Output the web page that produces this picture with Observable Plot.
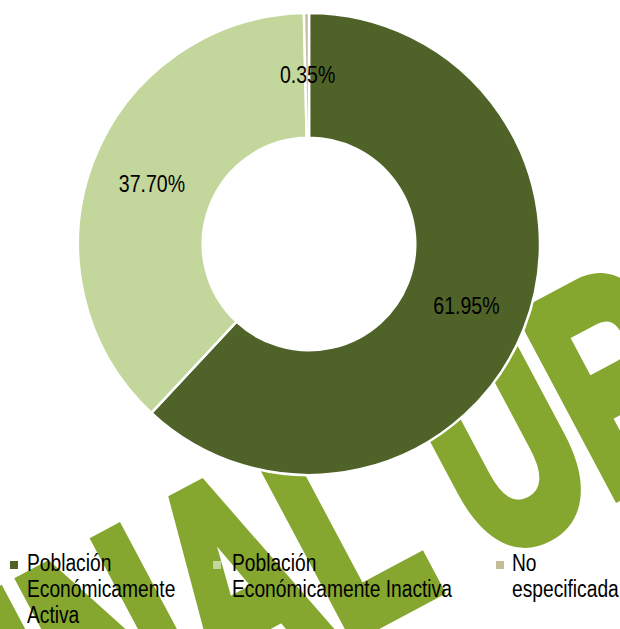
<!DOCTYPE html>
<html>
<head>
<meta charset="utf-8">
<script src="https://cdn.jsdelivr.net/npm/d3@7"></script>
<script src="https://cdn.jsdelivr.net/npm/@observablehq/plot@0.6"></script>
<style>
  html, body { margin: 0; padding: 0; background: #fff; }
  #wrap { position: relative; width: 620px; height: 629px; overflow: hidden;
          font-family: "Liberation Sans", Arial, sans-serif; }
  #wm { position: absolute; left: 0; top: 0; z-index: 0; }
  #chart { position: absolute; left: 0; top: 0; z-index: 1; }
  #legend { position: absolute; left: 0; top: 550px; width: 620px; height: 79px; z-index: 2;
            font-size: 23px; line-height: 26px; color: #000; }
  .sw { position: absolute; width: 8px; height: 8px; top: 11px; }
  .lbl { position: absolute; top: 0; white-space: nowrap; }
  .lbl div { transform: scaleX(0.835); transform-origin: 0 0; }
</style>
</head>
<body>
<div id="wrap">
  <svg id="wm" width="620" height="629">
    <g transform="translate(448,583) rotate(-28) scale(0.64,1)"
       font-family="Liberation Sans, Arial, sans-serif"
       font-weight="bold" font-size="290" fill="#85a62f"
       stroke="#85a62f" stroke-width="14" stroke-linejoin="miter">
      <text x="-10" text-anchor="end" vector-effect="non-scaling-stroke">ORIGINAL</text>
      <text x="70" text-anchor="start" vector-effect="non-scaling-stroke">URBANO</text>
    </g>
  </svg>
  <div id="chart"></div>
  <div id="legend"></div>
</div>
<script>
// ---- data ----
const categories = ["Población Económicamente Activa", "Población Económicamente Inactiva", "No especificada"];
const values = [61.95, 37.70, 0.35];
const valueLabels = ["61.95%", "37.70%", "0.35%"];
const colors = ["#4f6228", "#c3d69b", "#c4bd97"];
const legendLines = [
  ["Población", "Económicamente", "Activa"],
  ["Población", "Económicamente Inactiva"],
  ["No", "especificada"]
];

// ---- layout ----
const W = 620, H = 548;
const mt = 13, mb = 73, ml = 78, mr = 80;
const R = (W - ml - mr) / 2;
const cx = ml + R;
const cy = mt + (H - mt - mb) / 2;
const r = R * 0.46;

const color = Plot.scale({color: {type: "ordinal", domain: categories, range: colors}});
const data = categories.map((c, i) => ({category: c, value: values[i], label: valueLabels[i]}));
const arcs = d3.pie().value(d => d.value).sort(null)(data);
const arcGen = d3.arc().innerRadius(r).outerRadius(R);
const labelPts = arcs.map(a => {
  const [x, y] = arcGen.centroid(a);
  return {label: a.data.label, x: cx + x, y: cy + y};
});

const donut = () => {
  const g = d3.create("svg:g").attr("transform", `translate(${cx},${cy})`);
  g.selectAll("path").data(arcs).join("path")
    .attr("d", arcGen)
    .attr("fill", d => color.apply(d.data.category))
    .attr("stroke", "#fff")
    .attr("stroke-width", 2.5)
    .attr("stroke-linejoin", "round");
  return g.node();
};

const chart = Plot.plot({
  width: W, height: H,
  marginTop: mt, marginBottom: mb, marginLeft: ml, marginRight: mr,
  x: {type: "identity", axis: null},
  y: {type: "identity", axis: null},
  style: {background: "transparent", overflow: "visible"},
  marks: [
    donut,
    Plot.text(labelPts, {
      x: "x", y: "y", text: "label",
      fontSize: 23.5, fill: "#000", textAnchor: "middle", lineAnchor: "middle",
      fontFamily: "Liberation Sans, Arial, sans-serif"
    })
  ]
});
document.getElementById("chart").appendChild(chart);
// condense the value labels (Arial Narrow look)
d3.select(chart).selectAll("text").each(function() {
  const len = this.getComputedTextLength();
  this.setAttribute("textLength", (len * 0.83).toFixed(1));
  this.setAttribute("lengthAdjust", "spacingAndGlyphs");
});

// ---- legend ----
const swLeft = [10, 213, 496];
const txtLeft = [27, 232, 512];
const legend = d3.select("#legend");
categories.forEach((c, i) => {
  legend.append("div").attr("class", "sw")
    .style("left", swLeft[i] + "px")
    .style("background", color.apply(c));
  const lbl = legend.append("div").attr("class", "lbl")
    .style("left", txtLeft[i] + "px");
  legendLines[i].forEach(line => lbl.append("div").text(line));
});
</script>
</body>
</html>
